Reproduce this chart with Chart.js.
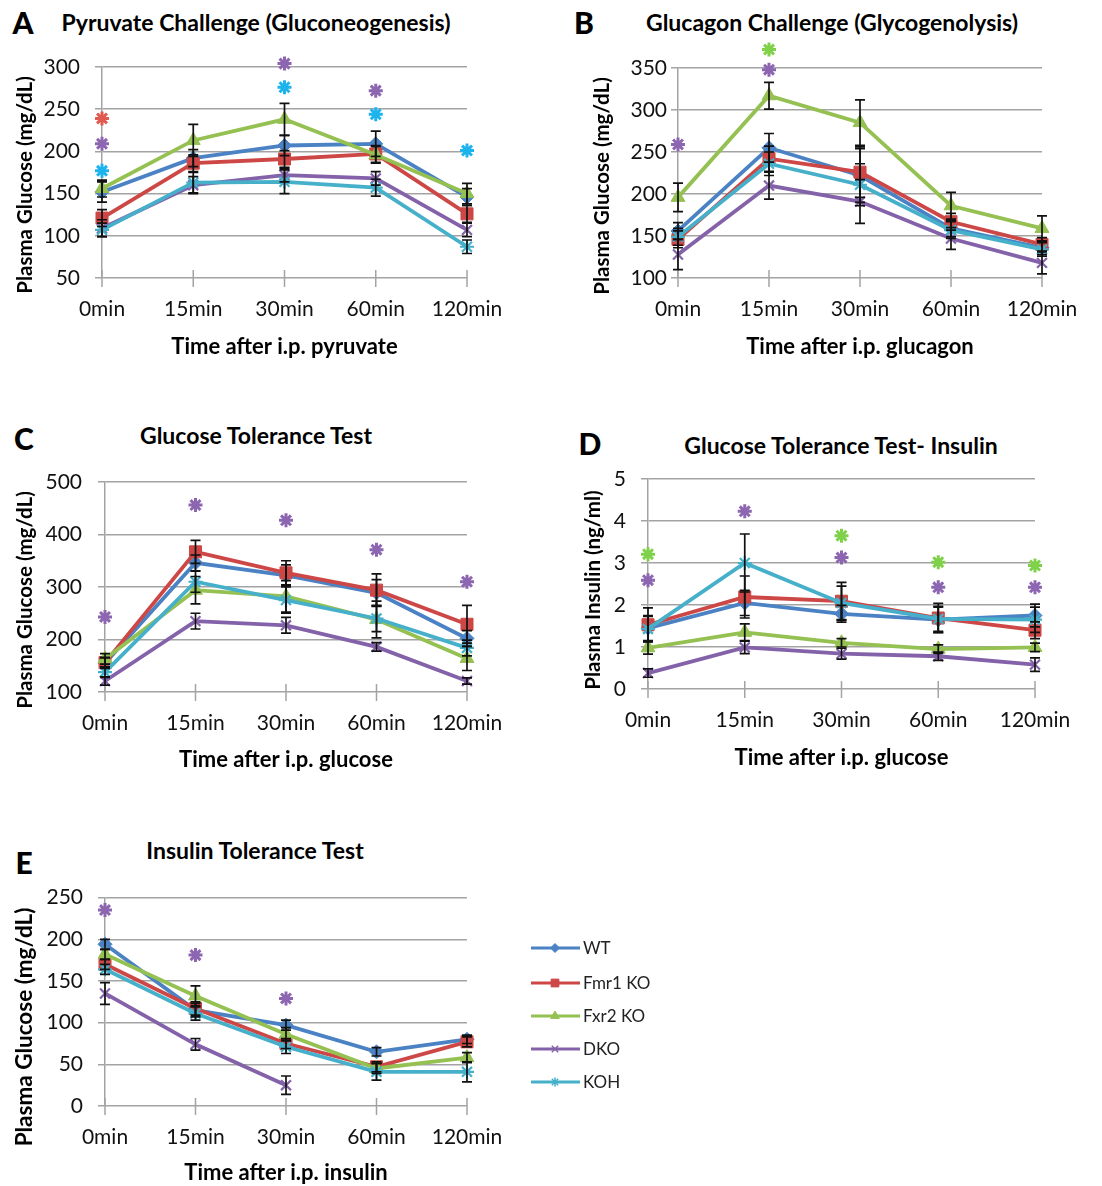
<!DOCTYPE html>
<html>
<head>
<meta charset="utf-8">
<script src="https://cdn.jsdelivr.net/npm/chart.js@4.4.0/dist/chart.umd.min.js"></script>
<style>
body { margin:0; background:#fff; width:1102px; height:1186px; position:relative; overflow:hidden; font-family:Lato, sans-serif; }
.box { position:absolute; }
.letter { position:absolute; font-weight:900; font-size:30px; color:#000; transform:translate(-50%,-50%); }
.title { position:absolute; font-weight:bold; font-size:23px; color:#000; transform:translate(-50%,-50%); white-space:nowrap; }
</style>
</head>
<body>
<div class="letter" style="left:23px;top:22px">A</div>
<div class="title" style="left:256px;top:22px">Pyruvate Challenge (Gluconeogenesis)</div>
<div class="letter" style="left:584px;top:22px">B</div>
<div class="title" style="left:832px;top:22px">Glucagon Challenge (Glycogenolysis)</div>
<div class="letter" style="left:24px;top:438px">C</div>
<div class="title" style="left:256px;top:435px">Glucose Tolerance Test</div>
<div class="letter" style="left:590px;top:443px">D</div>
<div class="title" style="left:841px;top:445px">Glucose Tolerance Test- Insulin</div>
<div class="letter" style="left:24px;top:862px">E</div>
<div class="title" style="left:255px;top:850px">Insulin Tolerance Test</div>

<script>
var times = ["0min", "15min", "30min", "60min", "120min"]
var groups = ["WT", "Fmr1 KO", "Fxr2 KO", "DKO", "KOH"]

// A - pyruvate challenge, mg/dL
var pyrWT   = [152, 192, 207, 209, 146]
var pyrFmr1 = [121, 186, 191, 197, 126]
var pyrFxr2 = [156, 213, 238, 196, 150]
var pyrDKO  = [109, 160, 172, 168, 107]
var pyrKOH  = [107, 163, 164, 157, 87]
var pyrErrWT   = [12, 10, 12, 15, 10]
var pyrErrFmr1 = [10, 10, 10, 10, 10]
var pyrErrFxr2 = [10, 19, 19, 10, 12]
var pyrErrDKO  = [10, 10, 8, 8, 8]
var pyrErrKOH  = [8, 12, 14, 10, 8]
// [time index, height, group index]
var pyrStars = [[0, 239, 1], [0, 209, 3], [0, 177, 4], [2, 304, 3], [2, 276, 4], [3, 272, 3], [3, 244, 4], [4, 201, 4]]

// B - glucagon challenge, mg/dL
var glcWT   = [156, 255, 222, 159, 136]
var glcFmr1 = [146, 242, 226, 167, 140]
var glcFxr2 = [196, 317, 285, 186, 159]
var glcDKO  = [128, 210, 191, 147, 118]
var glcKOH  = [149, 236, 211, 157, 134]
var glcErrWT   = [10, 17, 32, 10, 8]
var glcErrFmr1 = [10, 15, 30, 10, 8]
var glcErrFxr2 = [17, 16, 27, 16, 15]
var glcErrDKO  = [18, 16, 26, 13, 13]
var glcErrKOH  = [10, 14, 25, 10, 8]
var glcStars = [[0, 259, 3], [1, 372, 2], [1, 348, 3]]

// C - glucose tolerance test, mg/dL
var gttWT   = [155, 346, 322, 289, 202]
var gttFmr1 = [156, 367, 327, 294, 229]
var gttFxr2 = [163, 294, 282, 238, 164]
var gttDKO  = [121, 235, 227, 186, 121]
var gttKOH  = [138, 310, 275, 240, 184]
var gttErrWT   = [10, 15, 20, 25, 15]
var gttErrFmr1 = [10, 22, 23, 31, 36]
var gttErrFxr2 = [10, 26, 30, 35, 23]
var gttErrDKO  = [8, 15, 15, 8, 6]
var gttErrKOH  = [10, 20, 25, 25, 15]
var gttStars = [[0, 243, 3], [1, 456, 3], [2, 427, 3], [3, 371, 3], [4, 310, 3]]

// D - GTT insulin, ng/ml
var insWT   = [1.45, 2.05, 1.79, 1.65, 1.75]
var insFmr1 = [1.53, 2.19, 2.09, 1.69, 1.40]
var insFxr2 = [0.98, 1.35, 1.10, 0.95, 0.99]
var insDKO  = [0.38, 0.99, 0.84, 0.78, 0.58]
var insKOH  = [1.43, 3.00, 2.05, 1.67, 1.65]
var insErrWT   = [0.3, 0.3, 0.2, 0.3, 0.27]
var insErrFmr1 = [0.4, 0.5, 0.45, 0.35, 0.2]
var insErrFxr2 = [0.15, 0.2, 0.1, 0.1, 0.1]
var insErrDKO  = [0.1, 0.15, 0.13, 0.1, 0.16]
var insErrKOH  = [0.3, 0.69, 0.4, 0.3, 0.3]
var insStars = [[0, 3.21, 2], [0, 2.59, 3], [1, 4.23, 3], [2, 3.65, 2], [2, 3.13, 3], [3, 3.02, 2], [3, 2.42, 3], [4, 2.94, 2], [4, 2.42, 3]]

// E - insulin tolerance test, mg/dL
var ittWT   = [194, 115, 97, 65, 80]
var ittFmr1 = [170, 117, 75, 47, 77]
var ittFxr2 = [182, 132, 86, 45, 58]
var ittDKO  = [135, 74, 25, null, null]
var ittKOH  = [164, 111, 71, 41, 41]
var ittErrWT   = [6, 8, 6, 5, 5]
var ittErrFmr1 = [6, 8, 6, 6, 6]
var ittErrFxr2 = [6, 12, 8, 6, 6]
var ittErrDKO  = [13, 7, 11, null, null]
var ittErrKOH  = [6, 8, 8, 10, 12]
var ittStars = [[0, 235, 3], [1, 181, 3], [2, 129, 3]]

var lineColors = ["#4a82c4", "#cc4745", "#95c052", "#8462a9", "#46b0cb"]
var starColors = ["#4a82c4", "#e05a50", "#7fd14a", "#8d66b1", "#1db4ee"]
var markers = ["rectRot", "rect", "triangle", "crossRot", "star"]
var markerSize = [7, 8.5, 8, 7, 7]
var gridColor = "#a3a3a3"

// box = canvas [left, top, w, h]; area = plot [left, top, right, bottom]; yt = y title centre
var panels = [
  { box: [0, 30, 540, 340], area: [102, 67, 467, 278], min: 50, max: 300, step: 50, yPad: 15, xTitleY: 347, yt: [25, 185], ytSize: 20.5,
    yTitle: "Plasma Glucose (mg/dL)", xTitle: "Time after i.p. pyruvate",
    series: [pyrWT, pyrFmr1, pyrFxr2, pyrDKO, pyrKOH], errs: [pyrErrWT, pyrErrFmr1, pyrErrFxr2, pyrErrDKO, pyrErrKOH], stars: pyrStars },
  { box: [560, 30, 542, 340], area: [678, 68, 1042, 278], min: 100, max: 350, step: 50, yPad: 4, xTitleY: 347, yt: [602, 186], ytSize: 20.5,
    yTitle: "Plasma Glucose (mg/dL)", xTitle: "Time after i.p. glucagon",
    series: [glcWT, glcFmr1, glcFxr2, glcDKO, glcKOH], errs: [glcErrWT, glcErrFmr1, glcErrFxr2, glcErrDKO, glcErrKOH], stars: glcStars },
  { box: [0, 450, 540, 333], area: [105, 482, 467, 692], min: 100, max: 500, step: 100, yPad: 16, xTitleY: 760, yt: [25, 600], ytSize: 20.5,
    yTitle: "Plasma Glucose (mg/dL)", xTitle: "Time after i.p. glucose",
    series: [gttWT, gttFmr1, gttFxr2, gttDKO, gttKOH], errs: [gttErrWT, gttErrFmr1, gttErrFxr2, gttErrDKO, gttErrKOH], stars: gttStars },
  { box: [560, 450, 542, 331], area: [648, 479, 1035, 689], min: 0, max: 5, step: 1, yPad: 15, xTitleY: 758, yt: [593, 590], ytSize: 20.5,
    yTitle: "Plasma Insulin (ng/ml)", xTitle: "Time after i.p. glucose",
    series: [insWT, insFmr1, insFxr2, insDKO, insKOH], errs: [insErrWT, insErrFmr1, insErrFxr2, insErrDKO, insErrKOH], stars: insStars },
  { box: [0, 870, 700, 316], area: [105, 897, 467, 1106], min: 0, max: 250, step: 50, yPad: 15, xTitleY: 1175, yt: [25, 1027], ytSize: 22.5,
    yTitle: "Plasma Glucose (mg/dL)", xTitle: "Time after i.p. insulin", legend: true,
    series: [ittWT, ittFmr1, ittFxr2, ittDKO, ittKOH], errs: [ittErrWT, ittErrFmr1, ittErrFxr2, ittErrDKO, ittErrKOH], stars: ittStars }
]

function pointOpts(i, r) {
  return { pointStyle: markers[i], radius: r, borderWidth: (i >= 3 ? 2 : 1), rotation: 0 }
}

var panelPlugin = {
  id: "panelExtras",
  afterDatasetsDraw: function (chart) {
    var p = chart.options.plugins.panelExtras
    var ctx = chart.ctx, xs = chart.scales.x, ys = chart.scales.y, area = chart.chartArea
    ctx.save()
    // crossing tick marks on the time axis
    ctx.strokeStyle = gridColor
    ctx.lineWidth = 1.5
    for (var t = 0; t < times.length; t++) {
      var tx = xs.getPixelForValue(t)
      ctx.beginPath(); ctx.moveTo(tx, area.bottom - 8); ctx.lineTo(tx, area.bottom + 9); ctx.stroke()
    }
    // error bars
    ctx.strokeStyle = "#111"
    ctx.lineWidth = 1.7
    chart.data.datasets.forEach(function (ds, i) {
      var meta = chart.getDatasetMeta(i)
      ds.data.forEach(function (v, j) {
        var e = ds.err[j]
        if (v == null || e == null) return
        var x = meta.data[j].x
        var y1 = ys.getPixelForValue(v + e), y2 = ys.getPixelForValue(v - e)
        ctx.beginPath()
        ctx.moveTo(x, y1); ctx.lineTo(x, y2)
        ctx.moveTo(x - 5, y1); ctx.lineTo(x + 5, y1)
        ctx.moveTo(x - 5, y2); ctx.lineTo(x + 5, y2)
        ctx.stroke()
      })
    })
    // significance asterisks
    p.stars.forEach(function (s) {
      ctx.strokeStyle = starColors[s[2]]
      ctx.fillStyle = starColors[s[2]]
      ctx.lineWidth = 3
      Chart.helpers.drawPoint(ctx, { pointStyle: "star", radius: 7, borderWidth: 3, rotation: 0 },
        xs.getPixelForValue(s[0]), ys.getPixelForValue(s[1]))
    })
    // y axis title
    ctx.translate(p.yt[0] - p.box[0], p.yt[1] - p.box[1])
    ctx.rotate(-Math.PI / 2)
    ctx.font = "bold " + p.ytSize + "px Lato"
    ctx.fillStyle = "#000"
    ctx.textAlign = "center"
    ctx.textBaseline = "middle"
    ctx.fillText(p.yTitle, 0, 0)
    ctx.restore()

    if (!p.legend) return
    ctx.save()
    var ly = [948, 983, 1016, 1049, 1082]
    chart.data.datasets.forEach(function (ds, i) {
      var y = ly[i] - p.box[1]
      ctx.strokeStyle = lineColors[i]
      ctx.fillStyle = lineColors[i]
      ctx.lineWidth = 3
      ctx.beginPath(); ctx.moveTo(531, y); ctx.lineTo(580, y); ctx.stroke()
      ctx.lineWidth = (i >= 3 ? 1.5 : 1)
      Chart.helpers.drawPoint(ctx, pointOpts(i, [4.5, 5.5, 5, 4.5, 4.5][i]), 555, y)
      ctx.fillStyle = "#222"
      ctx.font = "17px Lato"
      ctx.textAlign = "left"
      ctx.textBaseline = "middle"
      ctx.fillText(ds.label, 583, y + 1)
    })
    ctx.restore()
  }
}

function makeChart(p) {
  var div = document.createElement("div")
  div.className = "box"
  div.style.left = p.box[0] + "px"
  div.style.top = p.box[1] + "px"
  var cv = document.createElement("canvas")
  cv.width = p.box[2]
  cv.height = p.box[3]
  div.appendChild(cv)
  document.body.appendChild(div)

  var yW = p.area[0] - p.box[0]
  var xH = p.box[1] + p.box[3] - p.area[3]
  var xtPad = Math.max(0, p.box[1] + p.box[3] - p.xTitleY - 13)

  var datasets = p.series.map(function (d, i) {
    return {
      label: groups[i],
      data: d,
      err: p.errs[i],
      order: 4 - i,
      borderColor: lineColors[i],
      backgroundColor: lineColors[i],
      borderWidth: 3.8,
      pointStyle: markers[i],
      pointRadius: markerSize[i],
      pointBorderWidth: (i >= 3 ? 2.2 : 1),
      pointBackgroundColor: lineColors[i],
      pointBorderColor: lineColors[i],
      tension: 0
    }
  })

  new Chart(cv, {
    type: "line",
    data: { labels: times, datasets: datasets },
    plugins: [panelPlugin],
    options: {
      responsive: false,
      animation: false,
      devicePixelRatio: 1,
      layout: { padding: { left: 0, top: p.area[1] - p.box[1], right: p.box[0] + p.box[2] - p.area[2], bottom: 0 } },
      plugins: {
        legend: { display: false },
        tooltip: { enabled: false },
        panelExtras: p
      },
      scales: {
        x: {
          offset: false,
          grid: { display: false, drawTicks: false },
          border: { display: false },
          ticks: { padding: 19, color: "#111", maxRotation: 0, autoSkip: false, font: { family: "Lato", size: 21 } },
          title: { display: true, text: p.xTitle, color: "#000", padding: { top: 0, bottom: xtPad }, font: { family: "Lato", size: 22, weight: "bold" } },
          afterFit: function (s) { s.height = xH }
        },
        y: {
          min: p.min,
          max: p.max,
          grid: { color: gridColor, lineWidth: 1.5, tickLength: 7, drawTicks: true },
          border: { display: true, color: gridColor, width: 1.5 },
          ticks: { stepSize: p.step, padding: p.yPad, color: "#111", font: { family: "Lato", size: 21 } },
          afterFit: function (s) { s.width = yW }
        }
      }
    }
  })
}

Promise.all([
  document.fonts.load("21px Lato"),
  document.fonts.load("bold 21px Lato"),
  document.fonts.load("900 30px Lato")
]).catch(function () {}).then(function () {
  panels.forEach(makeChart)
})
</script>
</body>
</html>
